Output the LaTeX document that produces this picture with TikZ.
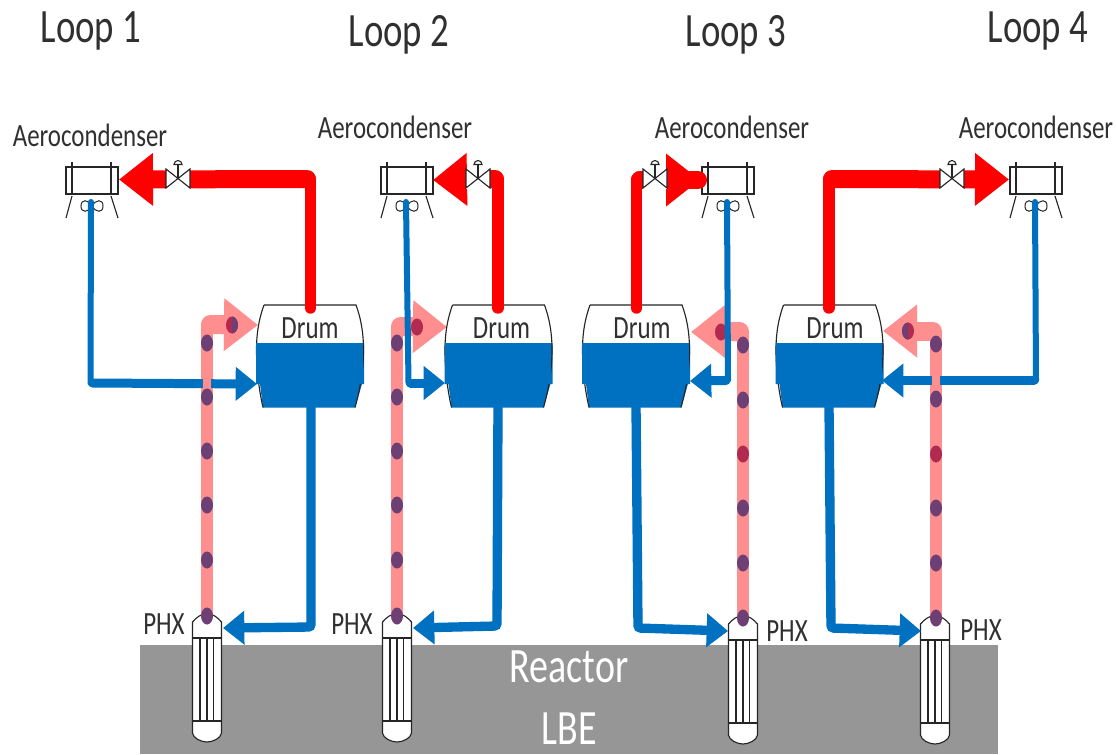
\documentclass[tikz,border=0pt]{standalone}
\usepackage{fontspec}
\setmainfont{Carlito}
\usetikzlibrary{arrows.meta,calc}
\definecolor{pipered}{HTML}{FF0000}
\definecolor{pipeblue}{HTML}{0070C0}
\definecolor{pinkpipe}{HTML}{FF8F8F}
\definecolor{dotpurple}{HTML}{6E3F74}
\definecolor{dotred}{HTML}{B32A50}
\definecolor{pool}{HTML}{969696}
\definecolor{inktext}{HTML}{303030}
\newcommand{\tallt}[1]{\scalebox{1}[1.3]{#1}}
\tikzset{
  x=0.75pt,y=-0.75pt,
  redrise/.style={draw=pipered,line width=8.6pt,line cap=round},
  redrun/.style={draw=pipered,line width=13.5pt,line cap=round},
  bluerise/.style={draw=pipeblue,line width=4.5pt,line cap=round},
  bluerun/.style={draw=pipeblue,line width=6.75pt,line cap=round},
  bluefeed/.style={draw=pipeblue,line width=7pt,line cap=round,rounded corners=2pt},
  pinkrise/.style={draw=pinkpipe,line width=9.4pt},
  pinkrun/.style={draw=pinkpipe,line width=14.25pt,line cap=round},
  redhead/.style={-{Triangle[length=25.5pt,width=38pt,fill=pipered,color=pipered]}},
  bluehead/.style={-{Triangle[length=16pt,width=24.5pt,fill=pipeblue,color=pipeblue]}},
  pinkhead/.style={-{Triangle[length=25.5pt,width=38pt,fill=pinkpipe,color=pinkpipe]}},
  looptitle/.style={font=\fontsize{27.6}{29}\selectfont,text=inktext,inner sep=0pt},
  smalllabel/.style={font=\fontsize{18.7}{20}\selectfont,text=inktext,inner sep=0pt},
  poollabel/.style={font=\fontsize{28.5}{30}\selectfont,text=white,inner sep=0pt},
  lin/.style={draw=black!85,line width=0.85pt},
}
\newcommand{\aerounit}[2]{%
  \begin{scope}[shift={(#1,167)}]
    \draw[lin] (0,0) rectangle (52,27);
    \draw[lin] (6,-5) -- (6,27) (45,-5) -- (45,27);
    \draw[lin] (6,29) -- (0,51) (45,29) -- (52,51);
    \draw[lin,line width=0.75pt,fill=white] (26,39) .. controls (22,32) and (15,32) .. (15,39)
      .. controls (15,46) and (22,46) .. (26,39) .. controls (30,32) and (37,32) .. (37,39)
      .. controls (37,46) and (30,46) .. (26,39) -- cycle;
    \coordinate (#2) at (25,35);
  \end{scope}}
\newcommand{\drumunit}[3]{%
  \begin{scope}[shift={(#1,0)}]
    \fill[white] (-46,305) -- (46,305) .. controls (50,316) and (53,330) .. (53,343) -- (-53,343) .. controls (-53,330) and (-50,316) .. (-46,305) -- cycle;
    \fill[pipeblue] (-54,343) -- (54,343) -- (54,384) -- (52,384) -- (45,407.5) -- (-47,407.5) -- (-50,384) -- (-54,384) -- cycle;
    \draw[lin] (-46,305) -- (46,305) .. controls (50,316) and (53.5,330) .. (53.5,350) .. controls (53.5,370) and (50,390) .. (45,407.5);
    \draw[lin] (-46,305) .. controls (-50,316) and (-53.5,330) .. (-53.5,350) .. controls (-53.5,370) and (-51,390) .. (-47,407.5);
    \fill[pipeblue] (-54,343) -- (52.5,343) -- (52.5,384) -- (-54,384) -- cycle;
    \node[smalllabel] (#2) at (#3,328) {\tallt{Drum}};
  \end{scope}}
\newcommand{\phxunit}[2]{%
  \begin{scope}[shift={(#1,#2)}]
    \draw[lin,fill=white] (-14.5,624) -- (-14.5,622) .. controls (-11,618) and (-6,613.5) .. (0,613.5) .. controls (6,613.5) and (11,618) .. (14.5,622) -- (14.5,733)
      .. controls (14,738) and (6,742) .. (0,742) .. controls (-6,742) and (-14,738) .. (-14.5,733) -- cycle;
    \draw[lin] (-14.5,638) -- (14.5,638) (-14.5,721) -- (14.5,721);
    \draw[lin] (-7,638) -- (-7,721) (0,638) -- (0,721) (6.5,638) -- (6.5,721);
  \end{scope}}
\newcommand{\valveunit}[1]{%
  \begin{scope}[shift={(#1,178.5)}]
    \fill[white] (-12,-10) rectangle (12,10);
    \draw[lin,fill=white] (-12,-9.5) -- (12,9.5) -- (12,-9.5) -- (-12,9.5) -- cycle;
    \draw[lin] (0,0) -- (0,-14);
    \draw[lin,line width=0.8pt,fill=white] (-4,-14) arc[start angle=180,end angle=360,radius=4] -- cycle;
  \end{scope}}
\begin{document}
\begin{tikzpicture}
\useasboundingbox (0,0) rectangle (1117,754);
\fill[white] (0,0) rectangle (1117,754);
\fill[pool] (140,645) rectangle (998,754);
\node[poollabel] (reactor) at (569,667) {\tallt{Reactor}};
\node[poollabel] (lbe) at (569,729) {\tallt{LBE}};

\node[looptitle] (l1) at (91,31) {\tallt{Loop 1}};
\node[looptitle] (l2) at (399,35) {\tallt{Loop 2}};
\node[looptitle] (l3) at (736,35) {\tallt{Loop 3}};
\node[looptitle] (l4) at (1038,31) {\tallt{Loop 4}};

\node[smalllabel] (a1) at (90,135) {\tallt{Aerocondenser}};
\node[smalllabel] (a2) at (395,127) {\tallt{Aerocondenser}};
\node[smalllabel] (a3) at (732,127) {\tallt{Aerocondenser}};
\node[smalllabel] (a4) at (1036,127) {\tallt{Aerocondenser}};

\aerounit{66}{f1}
\aerounit{381}{f2}
\aerounit{702}{f3}
\aerounit{1010}{f4}

\phxunit{207}{0}
\phxunit{397}{0}
\phxunit{743}{2}
\phxunit{935}{2}

% Steam (pink) risers
\coordinate (r1) at (207,615); \coordinate (r2) at (397,615);
\coordinate (r3) at (743,617); \coordinate (r4) at (936,617);
\coordinate (q1) at (207,325); \coordinate (q2) at (397,327);
\coordinate (q3) at (743,332); \coordinate (q4) at (936,331);
\coordinate (k1) at (210.5,324.5); \coordinate (k2) at (400.5,326.5);
\coordinate (k3) at (739.5,331.5); \coordinate (k4) at (932.5,331);
\coordinate (s1) at (258,325); \coordinate (s2) at (447,327);
\coordinate (s3) at (691,332); \coordinate (s4) at (883,331);
\draw[pinkrise] (r1) -- (q1);
\draw[pinkrise] (r2) -- (q2);
\draw[pinkrise] (r3) -- (q3);
\draw[pinkrise] (r4) -- (q4);
\draw[pinkrun,pinkhead] (k1) -- (s1);
\draw[pinkrun,pinkhead] (k2) -- (s2);
\draw[pinkrun,pinkhead] (k3) -- (s3);
\draw[pinkrun,pinkhead] (k4) -- (s4);

% Dots inside the pink arrows
\foreach \xx/\yy in {232/325,417/327,721/332,908/331}
  \fill[dotred] (\xx,\yy) ellipse[x radius=6,y radius=8.5];
\begin{scope}
  \clip (232,300) rectangle (240,350);
  \fill[dotpurple] (232,325) ellipse[x radius=6,y radius=8.5];
\end{scope}
\begin{scope}
  \clip (900,305) rectangle (908,356);
  \fill[dotpurple] (908,331) ellipse[x radius=6,y radius=8.5];
\end{scope}

% Lower blue pipes (drum to PHX)
\coordinate (d1b) at (311,405); \coordinate (d2b) at (498,405);
\coordinate (d3b) at (636,405); \coordinate (d4b) at (829,405);
\coordinate (e1) at (311,627); \coordinate (e2) at (497,626);
\coordinate (e3) at (638,628); \coordinate (e4) at (831,628);
\coordinate (p1) at (223,628); \coordinate (p2) at (413,628);
\coordinate (p3) at (728,631); \coordinate (p4) at (921,631);
\draw[bluefeed,bluehead] (d1b) -- (e1) -- (p1);
\draw[bluefeed,bluehead] (d2b) -- (e2) -- (p2);
\draw[bluefeed,bluehead] (d3b) -- (e3) -- (p3);
\draw[bluefeed,bluehead] (d4b) -- (e4) -- (p4);

% Upper blue feed pipes
\coordinate (u1) at (90.5,383); \coordinate (u2) at (408.5,383);
\coordinate (u3) at (728,380); \coordinate (u4) at (1036,380.5);
\coordinate (v1) at (92.5,383); \coordinate (v2) at (410.5,383);
\coordinate (v3) at (726,380.5); \coordinate (v4) at (1034,380.5);
\coordinate (t1) at (257,384); \coordinate (t2) at (445,383);
\coordinate (t3) at (690,381); \coordinate (t4) at (882,380.5);
\draw[bluerise] (f1) -- (u1);
\draw[bluerise] (f2) -- (u2);
\draw[bluerise] (f3) -- (u3);
\draw[bluerise] (f4) -- (u4);
\draw[bluerun,bluehead] (v1) -- (t1);
\draw[bluerun,bluehead] (v2) -- (t2);
\draw[bluerun,bluehead] (v3) -- (t3);
\draw[bluerun,bluehead] (v4) -- (t4);
% riser passes over the feed pipe
\fill[pinkpipe] (203,377) rectangle (211,389);
\fill[pinkpipe] (932,375) rectangle (940,387);

\drumunit{310}{d1}{0}
\drumunit{498.5}{d2}{3}
\drumunit{636}{d3}{6}
\drumunit{829.5}{d4}{5.5}

% Red steam lines
\coordinate (g1) at (310.5,308); \coordinate (g2) at (498,308);
\coordinate (g3) at (636.5,308); \coordinate (g4) at (829,308);
\coordinate (h1) at (310.5,179); \coordinate (h2) at (498,179);
\coordinate (h3) at (636.5,180); \coordinate (h4) at (829,179);
\coordinate (m1) at (307,179); \coordinate (m2) at (495,179);
\coordinate (m3) at (640,180); \coordinate (m4) at (832,179);
\coordinate (c1) at (119,179.5); \coordinate (c2) at (433,180);
\coordinate (c3) at (700,180); \coordinate (c4) at (1009,179.5);
\coordinate (c3e) at (698,180);
\draw[redrise] (g1) -- (h1);
\draw[redrise] (g2) -- (h2);
\draw[redrise] (g3) -- (h3);
\draw[redrise] (g4) -- (h4);
\draw[redrun,redhead] (m1) -- (c1);
\draw[redrun,redhead] (m2) -- (c2);
\draw[redrun] (m3) -- (c3e);
\draw[redrun,redhead] (m3) -- (c3);
\draw[redrun,redhead] (m4) -- (c4);
\valveunit{178}
\valveunit{478}
\valveunit{655}
\valveunit{952}

% Fluid markers
\foreach \xx/\yy in {207/343,207/397,207/451,207/505,207/560,207/616,
                     397/343,397/397,397/451,397/505,397/560,397/616,
                     743/345,743/400,743/508,743/563,743/618,
                     936/344,936/399,936/508,936/563,936/618}
  \fill[dotpurple] (\xx,\yy) ellipse[x radius=6,y radius=8.5];
\foreach \xx/\yy in {743/454,936/454}
  \fill[dotred] (\xx,\yy) ellipse[x radius=6,y radius=8.5];

\node[smalllabel] (ph1) at (164,624) {\tallt{PHX}};
\node[smalllabel] (ph2) at (352,624) {\tallt{PHX}};
\node[smalllabel] (ph3) at (787,631) {\tallt{PHX}};
\node[smalllabel] (ph4) at (981,630) {\tallt{PHX}};
\end{tikzpicture}
\end{document}
